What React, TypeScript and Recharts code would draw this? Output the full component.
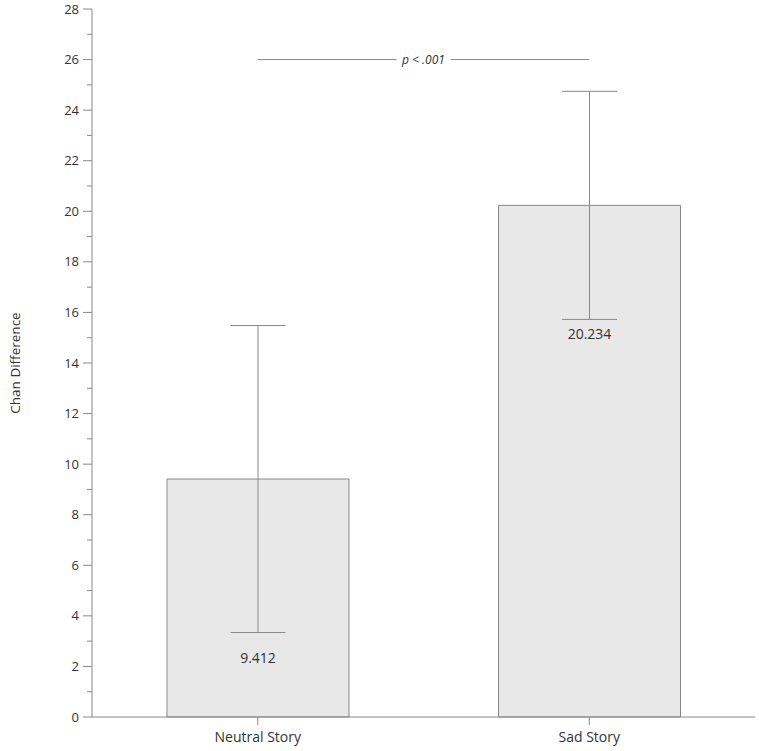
import React from 'react';
import { BarChart, Bar, XAxis, YAxis, ErrorBar, LabelList, ReferenceLine } from 'recharts';

const categories = ['Neutral Story', 'Sad Story'];
const means = [9.412, 20.234];
const errors = [6.07, 4.51];
const labelAt = [2.35, 15.15];
const yTicks = [0, 1, 2, 3, 4, 5, 6, 7, 8, 9, 10, 11, 12, 13, 14, 15, 16, 17, 18, 19, 20, 21, 22, 23, 24, 25, 26, 27, 28];
const sigY = 26;
const sigText = 'p < .001';

const data = categories.map((c, i) => ({ name: c, mean: means[i], err: errors[i] }));

const FONT = '"Open Sans", sans-serif';
const GREY = '#888888';

const YTick = (props: any) => {
  const { x, y, payload } = props;
  const v = payload.value;
  const major = v % 2 === 0;
  return (
    <g>
      <line x1={x - (major ? 9 : 5)} x2={x} y1={y} y2={y} stroke={GREY} strokeWidth={1} />
      {major && (
        <text x={x - 13} y={y} dy={4.5} textAnchor="end" fontSize={13} fill="#333" fontFamily={FONT}>
          {v}
        </text>
      )}
    </g>
  );
};

const BarValue = (props: any) => {
  const { x, y, width, height, value, index } = props;
  const cy = y + height - (labelAt[index] * height) / value;
  return (
    <text x={x + width / 2} y={cy} textAnchor="middle" dominantBaseline="central" fontSize={14} fill="#333" fontFamily={FONT}>
      {value}
    </text>
  );
};

const SigLabel = (props: any) => {
  const vb = props.viewBox || {};
  let cx: number;
  let cy: number;
  if (vb.x1 !== undefined) {
    cx = (vb.x1 + vb.x2) / 2;
    cy = vb.y1;
  } else {
    cx = vb.x + (vb.width || 0) / 2;
    cy = vb.y + (vb.height || 0) / 2;
  }
  return (
    <g>
      <rect x={cx - 27} y={cy - 8} width={54} height={16} fill="#fff" />
      <text x={cx} y={cy} textAnchor="middle" dominantBaseline="central" fontSize={12} fontStyle="italic" fill="#333" fontFamily={FONT}>
        {sigText}
      </text>
    </g>
  );
};

const YLabel = (props: any) => {
  const vb = props.viewBox || { x: 0, y: 9, width: 92, height: 708 };
  const cx = 15;
  const cy = vb.y + vb.height / 2;
  return (
    <text x={cx} y={cy} transform={`rotate(-90 ${cx} ${cy})`} textAnchor="middle" dominantBaseline="central" fontSize={13.5} fill="#333" fontFamily={FONT}>
      Chan Difference
    </text>
  );
};

export default function App() {
  return (
    <div style={{ position: 'absolute', left: 0, top: 0, background: '#fff' }}>
      <BarChart width={759} height={751} data={data} margin={{ top: 9, right: 4, left: 0, bottom: 0 }}>
        <XAxis
          dataKey="name"
          height={34}
          tickSize={8}
          tickMargin={7}
          axisLine={{ stroke: GREY }}
          tickLine={{ stroke: GREY }}
          tick={{ fontSize: 14, fill: '#333', fontFamily: FONT }}
        />
        <YAxis
          width={92}
          domain={[0, 28]}
          ticks={yTicks}
          interval={0}
          tickSize={0}
          tickMargin={0}
          axisLine={{ stroke: GREY }}
          tickLine={false}
          tick={<YTick />}
          label={<YLabel />}
        />
        <Bar dataKey="mean" fill="#e8e8e8" stroke={GREY} strokeWidth={1} barSize={182} isAnimationActive={false}>
          <ErrorBar dataKey="err" width={27.5} stroke={GREY} strokeWidth={1} />
          <LabelList dataKey="mean" content={<BarValue />} />
        </Bar>
        <ReferenceLine
          segment={[{ x: categories[0], y: sigY }, { x: categories[1], y: sigY }]}
          stroke={GREY}
          strokeWidth={1}
          label={<SigLabel />}
        />
      </BarChart>
    </div>
  );
}
